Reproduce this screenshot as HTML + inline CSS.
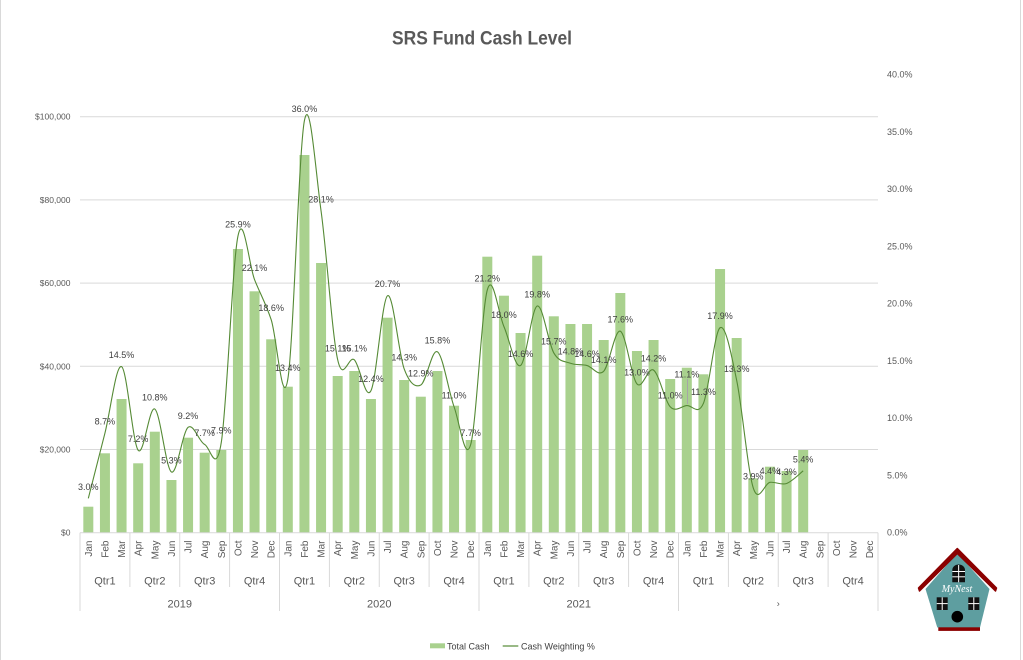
<!DOCTYPE html>
<html><head><meta charset="utf-8"><style>
html,body{margin:0;padding:0;background:#fff;}
svg{display:block;font-family:"Liberation Sans",Arial,sans-serif;}
</style></head><body>
<svg width="1023" height="660" viewBox="0 0 1023 660" xmlns="http://www.w3.org/2000/svg">
<rect x="0" y="0" width="1023" height="660" fill="#fff"/>
<line x1="0.5" y1="0" x2="0.5" y2="660" stroke="#d9d9d9"/>
<line x1="1020.5" y1="0" x2="1020.5" y2="660" stroke="#d9d9d9"/>

<text x="392" y="44.3" font-size="19.5" font-weight="bold" fill="#595959" textLength="180" lengthAdjust="spacingAndGlyphs">SRS Fund Cash Level</text>

<g stroke="#d9d9d9" stroke-width="1">
<line x1="80" y1="116.7" x2="878" y2="116.7"/>
<line x1="80" y1="199.9" x2="878" y2="199.9"/>
<line x1="80" y1="283.1" x2="878" y2="283.1"/>
<line x1="80" y1="366.3" x2="878" y2="366.3"/>
<line x1="80" y1="449.5" x2="878" y2="449.5"/>
</g>

<g font-size="8.5" fill="#595959" text-anchor="end">
<text x="70.5" y="119.7">$100,000</text>
<text x="70.5" y="202.9">$80,000</text>
<text x="70.5" y="286.1">$60,000</text>
<text x="70.5" y="369.3">$40,000</text>
<text x="70.5" y="452.5">$20,000</text>
<text x="70.5" y="535.7">$0</text>
</g>
<g font-size="9" fill="#595959">
<text x="887" y="77.7">40.0%</text>
<text x="887" y="135">35.0%</text>
<text x="887" y="192.2">30.0%</text>
<text x="887" y="249.5">25.0%</text>
<text x="887" y="306.7">20.0%</text>
<text x="887" y="364">15.0%</text>
<text x="887" y="421.2">10.0%</text>
<text x="887" y="478.5">5.0%</text>
<text x="887" y="535.7">0.0%</text>
</g>

<g fill="#A9D18E">
<rect x="83.31" y="506.7" width="10" height="26"/>
<rect x="99.94" y="453.3" width="10" height="79.4"/>
<rect x="116.56" y="399" width="10" height="133.7"/>
<rect x="133.19" y="463.3" width="10" height="69.4"/>
<rect x="149.81" y="431.7" width="10" height="101"/>
<rect x="166.44" y="480" width="10" height="52.7"/>
<rect x="183.06" y="437.7" width="10" height="95"/>
<rect x="199.69" y="452.7" width="10" height="80"/>
<rect x="216.31" y="450" width="10" height="82.7"/>
<rect x="232.94" y="249" width="10" height="283.7"/>
<rect x="249.56" y="291.3" width="10" height="241.4"/>
<rect x="266.19" y="339.3" width="10" height="193.4"/>
<rect x="282.81" y="386.7" width="10" height="146"/>
<rect x="299.44" y="155" width="10" height="377.7"/>
<rect x="316.06" y="263" width="10" height="269.7"/>
<rect x="332.69" y="376" width="10" height="156.7"/>
<rect x="349.31" y="371" width="10" height="161.7"/>
<rect x="365.94" y="399" width="10" height="133.7"/>
<rect x="382.56" y="317.7" width="10" height="215"/>
<rect x="399.19" y="380" width="10" height="152.7"/>
<rect x="415.81" y="396.7" width="10" height="136"/>
<rect x="432.44" y="371" width="10" height="161.7"/>
<rect x="449.06" y="405.7" width="10" height="127"/>
<rect x="465.69" y="440" width="10" height="92.7"/>
<rect x="482.31" y="256.7" width="10" height="276"/>
<rect x="498.94" y="295.7" width="10" height="237"/>
<rect x="515.56" y="333" width="10" height="199.7"/>
<rect x="532.19" y="255.7" width="10" height="277"/>
<rect x="548.81" y="316.3" width="10" height="216.4"/>
<rect x="565.44" y="324" width="10" height="208.7"/>
<rect x="582.06" y="324" width="10" height="208.7"/>
<rect x="598.69" y="340" width="10" height="192.7"/>
<rect x="615.31" y="293" width="10" height="239.7"/>
<rect x="631.94" y="351" width="10" height="181.7"/>
<rect x="648.56" y="340" width="10" height="192.7"/>
<rect x="665.19" y="379" width="10" height="153.7"/>
<rect x="681.81" y="367.7" width="10" height="165"/>
<rect x="698.44" y="374.3" width="10" height="158.4"/>
<rect x="715.06" y="269" width="10" height="263.7"/>
<rect x="731.69" y="338" width="10" height="194.7"/>
<rect x="748.31" y="478.3" width="10" height="54.4"/>
<rect x="764.94" y="466.7" width="10" height="66"/>
<rect x="781.56" y="471" width="10" height="61.7"/>
<rect x="798.19" y="450" width="10" height="82.7"/>
</g>

<g stroke="#d9d9d9" stroke-width="1">
<line x1="80" y1="532.7" x2="878" y2="532.7"/>
<line x1="80" y1="532.7" x2="80" y2="611"/>
<line x1="129.9" y1="532.7" x2="129.9" y2="587"/>
<line x1="179.75" y1="532.7" x2="179.75" y2="587"/>
<line x1="229.6" y1="532.7" x2="229.6" y2="587"/>
<line x1="279.5" y1="532.7" x2="279.5" y2="611"/>
<line x1="329.4" y1="532.7" x2="329.4" y2="587"/>
<line x1="379.25" y1="532.7" x2="379.25" y2="587"/>
<line x1="429.1" y1="532.7" x2="429.1" y2="587"/>
<line x1="479" y1="532.7" x2="479" y2="611"/>
<line x1="528.9" y1="532.7" x2="528.9" y2="587"/>
<line x1="578.75" y1="532.7" x2="578.75" y2="587"/>
<line x1="628.6" y1="532.7" x2="628.6" y2="587"/>
<line x1="678.5" y1="532.7" x2="678.5" y2="611"/>
<line x1="728.4" y1="532.7" x2="728.4" y2="587"/>
<line x1="778.25" y1="532.7" x2="778.25" y2="587"/>
<line x1="828.1" y1="532.7" x2="828.1" y2="587"/>
<line x1="878" y1="532.7" x2="878" y2="611"/>
</g>

<path fill="none" stroke="#558A35" stroke-width="1.1" d="M88.31,498.35 C91.08,487.47 99.40,455.03 104.94,433.08 C110.48,411.13 116.02,363.81 121.56,366.67 C127.10,369.53 132.65,443.20 138.19,450.26 C143.73,457.32 149.27,405.41 154.81,409.04 C160.35,412.67 165.90,468.96 171.44,472.01 C176.98,475.06 182.52,431.94 188.06,427.36 C193.60,422.78 199.15,442.05 204.69,444.53 C210.23,447.01 215.77,476.97 221.31,442.24 C226.85,407.51 232.40,263.24 237.94,236.14 C243.48,209.04 249.02,265.72 254.56,279.65 C260.10,293.58 265.65,303.13 271.19,319.73 C276.73,336.33 282.27,412.48 287.81,379.27 C293.35,346.06 298.90,148.55 304.44,120.5 C309.98,92.45 315.52,171.07 321.06,210.95 C326.60,250.83 332.15,334.99 337.69,359.8 C343.23,384.61 348.77,354.65 354.31,359.8 C359.85,364.95 365.40,401.41 370.94,390.72 C376.48,380.03 382.02,299.31 387.56,295.68 C393.10,292.05 398.65,354.07 404.19,368.96 C409.73,383.85 415.27,387.85 420.81,384.99 C426.35,382.13 431.90,348.16 437.44,351.79 C442.98,355.42 448.52,391.29 454.06,406.75 C459.60,422.21 465.15,464.00 470.69,444.53 C476.23,425.06 481.77,309.62 487.31,289.96 C492.85,270.30 498.40,314.00 503.94,326.6 C509.48,339.20 515.02,368.97 520.56,365.53 C526.10,362.09 531.65,308.09 537.19,305.99 C542.73,303.89 548.27,343.39 553.81,352.93 C559.35,362.47 564.90,361.14 570.44,363.24 C575.98,365.34 581.52,364.19 587.06,365.53 C592.60,366.87 598.15,376.98 603.69,371.25 C609.23,365.52 614.77,329.08 620.31,331.18 C625.85,333.28 631.40,377.36 636.94,383.85 C642.48,390.34 648.02,366.29 653.56,370.11 C659.10,373.93 664.65,400.83 670.19,406.75 C675.73,412.67 681.27,406.17 686.81,405.6 C692.35,405.03 697.90,416.29 703.44,403.31 C708.98,390.33 714.52,331.56 720.06,327.74 C725.60,323.92 731.15,353.69 736.69,380.41 C742.23,407.13 747.77,471.05 753.31,488.04 C758.85,505.03 764.40,483.08 769.94,482.32 C775.48,481.56 781.02,485.37 786.56,483.46 C792.10,481.55 800.42,472.97 803.19,470.87"/>

<line x1="687.5" y1="379" x2="687.5" y2="404" stroke="#a6a6a6" stroke-width="1"/>

<g font-size="9" fill="#404040" text-anchor="middle">
<text x="88.31" y="489.85">3.0%</text>
<text x="104.94" y="424.58">8.7%</text>
<text x="121.56" y="358.17">14.5%</text>
<text x="138.19" y="441.76">7.2%</text>
<text x="154.81" y="400.54">10.8%</text>
<text x="171.44" y="463.51">5.3%</text>
<text x="188.06" y="418.86">9.2%</text>
<text x="204.69" y="436.03">7.7%</text>
<text x="221.31" y="433.74">7.9%</text>
<text x="237.94" y="227.64">25.9%</text>
<text x="254.56" y="271.15">22.1%</text>
<text x="271.19" y="311.23">18.6%</text>
<text x="287.81" y="370.77">13.4%</text>
<text x="304.44" y="112">36.0%</text>
<text x="321.06" y="202.45">28.1%</text>
<text x="337.69" y="351.3">15.1%</text>
<text x="354.31" y="351.3">15.1%</text>
<text x="370.94" y="382.22">12.4%</text>
<text x="387.56" y="287.18">20.7%</text>
<text x="404.19" y="360.46">14.3%</text>
<text x="420.81" y="376.49">12.9%</text>
<text x="437.44" y="343.29">15.8%</text>
<text x="454.06" y="398.25">11.0%</text>
<text x="470.69" y="436.03">7.7%</text>
<text x="487.31" y="281.46">21.2%</text>
<text x="503.94" y="318.1">18.0%</text>
<text x="520.56" y="357.03">14.6%</text>
<text x="537.19" y="297.49">19.8%</text>
<text x="553.81" y="344.43">15.7%</text>
<text x="570.44" y="354.74">14.8%</text>
<text x="587.06" y="357.03">14.6%</text>
<text x="603.69" y="362.75">14.1%</text>
<text x="620.31" y="322.68">17.6%</text>
<text x="636.94" y="375.35">13.0%</text>
<text x="653.56" y="361.61">14.2%</text>
<text x="670.19" y="398.25">11.0%</text>
<text x="686.81" y="377.5">11.1%</text>
<text x="703.44" y="394.81">11.3%</text>
<text x="720.06" y="319.24">17.9%</text>
<text x="736.69" y="371.91">13.3%</text>
<text x="753.31" y="479.54">3.9%</text>
<text x="769.94" y="473.82">4.4%</text>
<text x="786.56" y="474.96">4.3%</text>
<text x="803.19" y="462.37">5.4%</text>
</g>

<g font-size="10" fill="#595959" text-anchor="end">
<text transform="translate(91.8,540.5) rotate(-90)">Jan</text>
<text transform="translate(108.4,540.5) rotate(-90)">Feb</text>
<text transform="translate(125.1,540.5) rotate(-90)">Mar</text>
<text transform="translate(141.7,540.5) rotate(-90)">Apr</text>
<text transform="translate(158.3,540.5) rotate(-90)">May</text>
<text transform="translate(174.9,540.5) rotate(-90)">Jun</text>
<text transform="translate(191.6,540.5) rotate(-90)">Jul</text>
<text transform="translate(208.2,540.5) rotate(-90)">Aug</text>
<text transform="translate(224.8,540.5) rotate(-90)">Sep</text>
<text transform="translate(241.4,540.5) rotate(-90)">Oct</text>
<text transform="translate(258.1,540.5) rotate(-90)">Nov</text>
<text transform="translate(274.7,540.5) rotate(-90)">Dec</text>
<text transform="translate(291.3,540.5) rotate(-90)">Jan</text>
<text transform="translate(307.9,540.5) rotate(-90)">Feb</text>
<text transform="translate(324.6,540.5) rotate(-90)">Mar</text>
<text transform="translate(341.2,540.5) rotate(-90)">Apr</text>
<text transform="translate(357.8,540.5) rotate(-90)">May</text>
<text transform="translate(374.4,540.5) rotate(-90)">Jun</text>
<text transform="translate(391.1,540.5) rotate(-90)">Jul</text>
<text transform="translate(407.7,540.5) rotate(-90)">Aug</text>
<text transform="translate(424.3,540.5) rotate(-90)">Sep</text>
<text transform="translate(440.9,540.5) rotate(-90)">Oct</text>
<text transform="translate(457.6,540.5) rotate(-90)">Nov</text>
<text transform="translate(474.2,540.5) rotate(-90)">Dec</text>
<text transform="translate(490.8,540.5) rotate(-90)">Jan</text>
<text transform="translate(507.4,540.5) rotate(-90)">Feb</text>
<text transform="translate(524.1,540.5) rotate(-90)">Mar</text>
<text transform="translate(540.7,540.5) rotate(-90)">Apr</text>
<text transform="translate(557.3,540.5) rotate(-90)">May</text>
<text transform="translate(573.9,540.5) rotate(-90)">Jun</text>
<text transform="translate(590.6,540.5) rotate(-90)">Jul</text>
<text transform="translate(607.2,540.5) rotate(-90)">Aug</text>
<text transform="translate(623.8,540.5) rotate(-90)">Sep</text>
<text transform="translate(640.4,540.5) rotate(-90)">Oct</text>
<text transform="translate(657.1,540.5) rotate(-90)">Nov</text>
<text transform="translate(673.7,540.5) rotate(-90)">Dec</text>
<text transform="translate(690.3,540.5) rotate(-90)">Jan</text>
<text transform="translate(706.9,540.5) rotate(-90)">Feb</text>
<text transform="translate(723.6,540.5) rotate(-90)">Mar</text>
<text transform="translate(740.2,540.5) rotate(-90)">Apr</text>
<text transform="translate(756.8,540.5) rotate(-90)">May</text>
<text transform="translate(773.4,540.5) rotate(-90)">Jun</text>
<text transform="translate(790.1,540.5) rotate(-90)">Jul</text>
<text transform="translate(806.7,540.5) rotate(-90)">Aug</text>
<text transform="translate(823.3,540.5) rotate(-90)">Sep</text>
<text transform="translate(839.9,540.5) rotate(-90)">Oct</text>
<text transform="translate(856.6,540.5) rotate(-90)">Nov</text>
<text transform="translate(873.2,540.5) rotate(-90)">Dec</text>
</g>

<g font-size="11" fill="#595959" text-anchor="middle">
<text x="104.94" y="584.5">Qtr1</text>
<text x="154.81" y="584.5">Qtr2</text>
<text x="204.69" y="584.5">Qtr3</text>
<text x="254.56" y="584.5">Qtr4</text>
<text x="304.44" y="584.5">Qtr1</text>
<text x="354.31" y="584.5">Qtr2</text>
<text x="404.19" y="584.5">Qtr3</text>
<text x="454.06" y="584.5">Qtr4</text>
<text x="503.94" y="584.5">Qtr1</text>
<text x="553.81" y="584.5">Qtr2</text>
<text x="603.69" y="584.5">Qtr3</text>
<text x="653.56" y="584.5">Qtr4</text>
<text x="703.44" y="584.5">Qtr1</text>
<text x="753.31" y="584.5">Qtr2</text>
<text x="803.19" y="584.5">Qtr3</text>
<text x="853.06" y="584.5">Qtr4</text>
<text x="179.75" y="607.5">2019</text>
<text x="379.25" y="607.5">2020</text>
<text x="578.75" y="607.5">2021</text>
<text x="778.25" y="606.5" font-size="9">›</text>
</g>

<rect x="430" y="643.3" width="15" height="5" fill="#A9D18E"/>
<text x="447" y="649.3" font-size="9" fill="#404040">Total Cash</text>
<line x1="502.7" y1="646" x2="518.3" y2="646" stroke="#558A35" stroke-width="1.2"/>
<text x="521" y="649.3" font-size="9" fill="#404040">Cash Weighting %</text>

<g>
<polygon points="957.3,553 925.5,589 937.3,627.5 980,627.5 989.5,589" fill="#5E9EA0"/>
<polygon points="957.3,548.5 918.5,588 919.5,591 957.3,553.5 995.5,591 996.5,588" fill="#8B0000" stroke="#8B0000" stroke-width="1.5" stroke-linejoin="round"/>
<rect x="938.3" y="627.3" width="41.7" height="3.6" fill="#8B0000"/>
<path d="M952.3,582.3 L952.3,570 A6.35,5.5 0 0 1 965,570 L965,582.3 Z" fill="#111"/>
<line x1="958.65" y1="565" x2="958.65" y2="582.3" stroke="#fff" stroke-width="1"/>
<line x1="952.3" y1="571.5" x2="965" y2="571.5" stroke="#fff" stroke-width="1"/>
<line x1="952.3" y1="576.8" x2="965" y2="576.8" stroke="#fff" stroke-width="1"/>
<rect x="936.7" y="597.3" width="11" height="12.7" fill="#111"/>
<line x1="942.2" y1="597.3" x2="942.2" y2="610" stroke="#fff" stroke-width="1"/>
<line x1="936.7" y1="603.6" x2="947.7" y2="603.6" stroke="#fff" stroke-width="1"/>
<rect x="968.3" y="597.3" width="11" height="12.7" fill="#111"/>
<line x1="973.8" y1="597.3" x2="973.8" y2="610" stroke="#fff" stroke-width="1"/>
<line x1="968.3" y1="603.6" x2="979.3" y2="603.6" stroke="#fff" stroke-width="1"/>
<circle cx="957.3" cy="616.7" r="5.8" fill="#000"/>
<text x="957" y="592" font-size="10" font-style="italic" font-family="'Liberation Serif',serif" fill="#fff" text-anchor="middle">MyNest</text>
</g>
</svg>
</body></html>
